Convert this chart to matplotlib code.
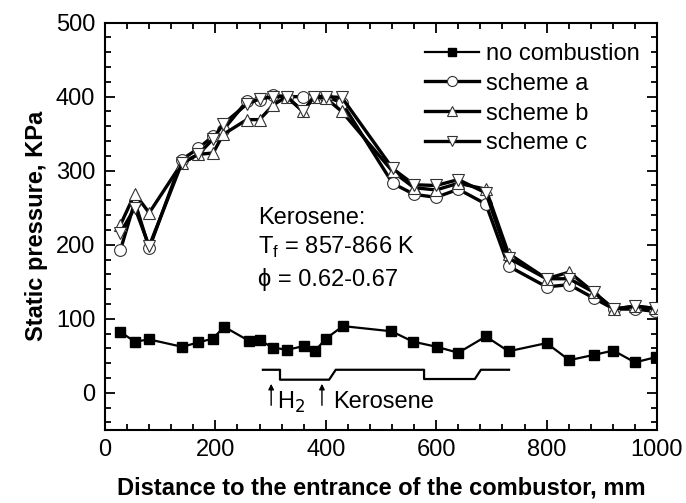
import matplotlib
matplotlib.use("Agg")
import matplotlib.pyplot as plt
from matplotlib.ticker import MultipleLocator

plt.rcParams['font.family'] = ['Liberation Sans', 'DejaVu Sans']

# no combustion
x_nc = [28, 54, 80, 140, 169, 195, 216, 261, 280, 304, 330, 360, 380, 400, 431,
        519, 558, 601, 640, 690, 731, 800, 841, 885, 921, 960, 998]
y_nc = [82, 69, 72, 62, 68, 73, 89, 70, 71, 61, 58, 63, 56, 73, 90,
        83, 69, 62, 54, 76, 56, 67, 44, 51, 57, 41, 48]

# combustion schemes
x_s = [28, 54, 80, 139, 169, 196, 214, 257, 280, 305, 329, 359, 379, 400, 429,
       521, 560, 600, 640, 690, 731, 800, 841, 885, 922, 960, 996]
y_a = [193, 258, 195, 315, 330, 347, 355, 394, 396, 402, 400, 400, 400, 400, 392,
       283, 268, 264, 275, 255, 171, 143, 146, 128, 113, 113, 110]
y_b = [227, 269, 243, 310, 322, 324, 349, 369, 369, 389, 400, 380, 400, 398, 380,
       299, 277, 274, 283, 275, 188, 154, 163, 136, 113, 117, 114]
y_c = [216, 250, 198, 310, 322, 343, 363, 390, 397, 400, 400, 380, 400, 400, 399,
       303, 281, 280, 288, 270, 182, 154, 154, 136, 113, 117, 114]

# injection profile sketch
x_inj = [286, 317, 317, 406, 418, 578, 578, 670, 681, 732]
y_inj = [31, 31, 17.6, 17.6, 31, 31, 18.5, 18.5, 31, 31]

labels = ['no combustion', 'scheme a', 'scheme b', 'scheme c']

FS = 17

fig = plt.figure(figsize=(6.86, 5.03), dpi=100)
ax = fig.add_axes([0.1531, 0.1457, 0.8046, 0.8092])

ax.plot(x_nc, y_nc, color='black', lw=1.6, marker='s', ms=7, mfc='black', mec='black',
        label=labels[0], zorder=3)
ax.plot(x_s, y_a, color='black', lw=2.4, marker='o', ms=8.5, mfc='white', mec='#333333',
        mew=0.8, label=labels[1], zorder=3)
ax.plot(x_s, y_b, color='black', lw=2.4, marker='^', ms=9, mfc='white', mec='#333333',
        mew=0.8, label=labels[2], zorder=3)
ax.plot(x_s, y_c, color='black', lw=2.4, marker='v', ms=9, mfc='white', mec='#333333',
        mew=0.8, label=labels[3], zorder=3)

ax.plot(x_inj, y_inj, color='black', lw=1.6, zorder=2)

for xa in (301, 393):
    ax.annotate('', xy=(xa, 12), xytext=(xa, -17),
                arrowprops=dict(arrowstyle='-|>', color='black', lw=1.0,
                                mutation_scale=8, shrinkA=0, shrinkB=0))
ax.text(312, -13, 'H$_2$', fontsize=FS, va='center', ha='left')
ax.text(414, -13, 'Kerosene', fontsize=FS, va='center', ha='left')

ax.text(277, 236, 'Kerosene:', fontsize=FS, va='center', ha='left')
ax.text(277, 197, 'T$_\\mathregular{f}$ = 857-866 K', fontsize=FS, va='center', ha='left')
ax.text(277, 153, '\u03d5 = 0.62-0.67', fontsize=FS, va='center', ha='left')

ax.set_xlim(0, 1000)
ax.set_ylim(-50, 500)
ax.xaxis.set_major_locator(MultipleLocator(200))
ax.xaxis.set_minor_locator(MultipleLocator(40))
ax.yaxis.set_major_locator(MultipleLocator(100))
ax.yaxis.set_minor_locator(MultipleLocator(20))
ax.tick_params(which='both', direction='in', top=True, right=True, width=1.3)
ax.tick_params(which='major', length=7, labelsize=FS, pad=7)
ax.tick_params(which='minor', length=4)
for s in ax.spines.values():
    s.set_linewidth(1.5)

ax.set_xlabel('Distance to the entrance of the combustor, mm', fontsize=FS,
              fontweight='bold', labelpad=11)
ax.set_ylabel('Static pressure, KPa', fontsize=FS, fontweight='bold', labelpad=6)

leg = ax.legend(loc='upper right', frameon=False, fontsize=FS, handlelength=2.3,
                handletextpad=0.3, labelspacing=0.33, borderaxespad=0.2,
                markerscale=0.85, bbox_to_anchor=(0.995, 0.985))

fig.savefig('out.png', dpi=100)
